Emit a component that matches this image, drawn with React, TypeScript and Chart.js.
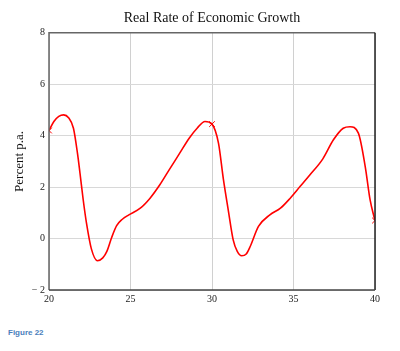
import React, { useEffect, useRef } from "react";
import { Chart, registerables } from "chart.js";

Chart.register(...registerables);

const growthX = [20, 20.3, 20.6, 20.9, 21.2, 21.5, 21.75, 21.9, 22.1, 22.3, 22.6, 22.97, 23.3, 23.55, 23.85, 24.15, 24.5, 24.9, 25.6, 26.2, 26.8, 27.4, 28.0, 28.6, 29.1, 29.57, 30.0, 30.4, 30.7, 31.0, 31.3, 31.55, 31.82, 32.1, 32.35, 32.85, 33.55, 34.2, 34.8, 35.4, 36.0, 36.8, 37.45, 38.05, 38.47, 38.98, 39.4, 39.7, 40];
const growthY = [4.2, 4.55, 4.75, 4.81, 4.7, 4.29, 3.3, 2.55, 1.5, 0.6, -0.4, -0.86, -0.75, -0.5, 0.05, 0.5, 0.75, 0.92, 1.18, 1.57, 2.09, 2.7, 3.3, 3.9, 4.3, 4.55, 4.45, 3.7, 2.3, 1.1, -0.05, -0.5, -0.67, -0.6, -0.3, 0.47, 0.92, 1.18, 1.57, 2.02, 2.47, 3.1, 3.84, 4.29, 4.35, 4.1, 2.8, 1.5, 0.7];
const markerX = [20, 30, 40];
const markerY = [4.2, 4.45, 0.7];

const xTicks = [20, 25, 30, 35, 40];
const yTicks = [-2, 0, 2, 4, 6, 8];

const titleText = "Real Rate of Economic Growth";
const yTitleText = "Percent p.a.";
const figureLabel = "Figure 22";

const framePlugin = {
  id: "frame",
  afterDraw(chart: any) {
    const { ctx, chartArea: a } = chart;
    ctx.save();
    ctx.lineWidth = 1.5;
    ctx.strokeStyle = "#666";
    ctx.beginPath();
    ctx.moveTo(a.left, a.bottom);
    ctx.lineTo(a.left, a.top);
    ctx.lineTo(a.right, a.top);
    ctx.stroke();
    ctx.strokeStyle = "#222";
    ctx.beginPath();
    ctx.moveTo(a.right, a.top);
    ctx.lineTo(a.right, a.bottom);
    ctx.stroke();
    ctx.strokeStyle = "#444";
    ctx.beginPath();
    ctx.moveTo(a.left, a.bottom);
    ctx.lineTo(a.right, a.bottom);
    ctx.stroke();
    ctx.restore();
  },
};

export default function App() {
  const ref = useRef<HTMLCanvasElement>(null);
  useEffect(() => {
    if (!ref.current) return;
    const chart = new Chart(ref.current, {
      type: "scatter",
      data: {
        datasets: [
          {
            type: "line",
            data: growthX.map((x, i) => ({ x, y: growthY[i] })),
            borderColor: "#ff0000",
            borderWidth: 1.6,
            pointRadius: 0,
            cubicInterpolationMode: "monotone",
            fill: false,
          } as any,
          {
            type: "scatter",
            data: markerX.map((x, i) => ({ x, y: markerY[i] })),
            pointStyle: "crossRot",
            pointRadius: 4,
            borderColor: "#ff0000",
            borderWidth: 1,
            backgroundColor: "#ff0000",
          } as any,
        ],
      },
      options: {
        responsive: false,
        animation: false,
        maintainAspectRatio: false,
        layout: { padding: { left: 0, right: 25, top: 0, bottom: 0 } },
        plugins: {
          legend: { display: false },
          tooltip: { enabled: false },
          title: {
            display: true,
            fullSize: false,
            text: titleText,
            color: "#111",
            font: { family: "Liberation Serif", size: 14, weight: "normal" },
            padding: { top: 10, bottom: 6 },
          },
        },
        scales: {
          x: {
            type: "linear",
            min: 20,
            max: 40,
            afterBuildTicks: (s: any) => {
              s.ticks = xTicks.map((v) => ({ value: v }));
            },
            afterFit: (s: any) => {
              s.height = 20;
            },
            ticks: {
              color: "#222",
              font: { family: "Liberation Serif", size: 10 },
              padding: 3,
              maxRotation: 0,
              autoSkip: false,
            },
            grid: { color: "#d0d0d0", drawTicks: false, lineWidth: 1 },
            border: { display: false },
          },
          y: {
            type: "linear",
            min: -2,
            max: 8,
            afterBuildTicks: (s: any) => {
              s.ticks = yTicks.map((v) => ({ value: v }));
            },
            afterFit: (s: any) => {
              s.width = 49;
            },
            ticks: {
              color: "#222",
              font: { family: "Liberation Serif", size: 10 },
              padding: 4,
              autoSkip: false,
              callback: (v: any) => (v < 0 ? "\u2212 " + Math.abs(v) : String(v)),
            },
            grid: { color: "#d8d8d8", drawTicks: false, lineWidth: 1 },
            border: { display: false },
            title: {
              display: true,
              text: yTitleText,
              color: "#111",
              font: { family: "Liberation Serif", size: 13 },
              padding: { top: 12, bottom: 0 },
            },
          },
        },
      },
      plugins: [framePlugin],
    });
    return () => chart.destroy();
  }, []);

  return (
    <div style={{ position: "absolute", left: 0, top: 0, width: 400, height: 351, background: "#fff" }}>
      <canvas ref={ref} width={400} height={310} style={{ position: "absolute", left: 0, top: 0 }} />
      <div
        style={{
          position: "absolute",
          left: 8,
          top: 327,
          fontFamily: "'Liberation Sans', sans-serif",
          fontWeight: "bold",
          fontSize: 8,
          color: "#4a7ebb",
          lineHeight: "12px",
        }}
      >
        {figureLabel}
      </div>
    </div>
  );
}
